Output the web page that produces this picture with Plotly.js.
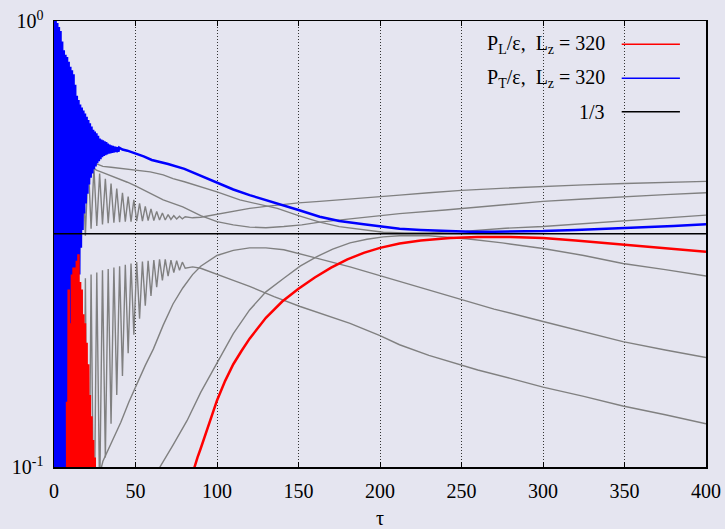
<!DOCTYPE html>
<html>
<head>
<meta charset="utf-8">
<script src="https://cdn.plot.ly/plotly-3.0.1.min.js"></script>
<style>
  html, body { margin: 0; padding: 0; background: #e5e5f0; }
  #chart { width: 725px; height: 529px; }
</style>
</head>
<body>
<div id="chart"></div>
<script>
// Pressure anisotropy P/ε versus proper time τ (log scale)

// L_z = 320, transverse pressure (blue)
const tauPT320 = [0,0.5,1,1.5,2,2.5,3,3.5,4,4.5,5,5.5,6,6.5,7,7.5,8,8.5,9,9.5,10,10.5,11,11.5,12,12.5,13,13.5,14,14.5,15,15.5,16,16.5,17,17.5,18,18.5,19,19.5,
  20,20.5,21,21.5,22,22.5,23,23.5,24,24.5,25,25.5,26,26.5,27,27.5,28,28.5,29,29.5,30,30.5,31,31.5,32,32.5,33,33.5,34,34.5,35,35.5,36,36.5,37,37.5,38,38.5,39,39.5,40,
  42,45,50,55,60,70,80,90,100,110,120,130,141,150,163,175,190,200,212,225,240,255,270,285,300,320,340,360,380,400];
const pt320 = [1.0,0.02,1.0,0.02,0.99,0.02,0.97,0.02,0.95,0.02,0.9,0.02,0.86,0.02,0.84,0.02,0.83,0.02,0.81,0.02,0.79,0.02,
  0.775,0.05,0.76,0.1,0.72,0.16,0.68,0.22,0.665,0.27,0.65,0.31,0.64,0.34,0.63,0.37,0.62,0.39,0.61,0.41,0.6,0.43,0.59,0.445,0.58,0.455,0.57,0.465,
  0.565,0.472,0.56,0.48,0.553,0.485,0.545,0.49,0.542,0.495,0.54,0.498,0.537,0.5,0.535,0.502,0.531,0.504,0.528,0.505,0.526,0.506,0.525,0.507,0.523,0.508,0.522,0.508,0.521,0.509,0.52,
  0.515,0.512,0.505,0.497,0.488,0.478,0.466,0.45,0.433,0.419,0.407,0.397,0.387,0.377,0.364,0.356,0.35,0.346,0.342,0.340,0.338,0.337,0.337,0.337,0.338,0.34,0.342,0.345,0.347,0.35];

// L_z = 320, longitudinal pressure (red)
const tauPL320 = [8,8.5,9,9.5,10,10.5,11,11.5,12,12.5,13,13.5,14,14.5,15,15.5,16,16.5,17,17.5,18,18.5,19,19.5,20,20.5,21,21.5,22,22.5,23,23.5,24,24.5,25,25.5,26,
  30,45,60,75,80,84,86,88,90,95,100,105,110,115,120,130,140,150,160,170,180,190,200,212,225,243,260,280,300,320,349,375,400];
const pl320 = [0.14,0.02,0.25,0.02,0.21,0.02,0.27,0.02,0.28,0.02,0.28,0.02,0.29,0.02,0.30,0.02,0.26,0.02,0.25,0.02,0.22,0.02,0.21,0.02,0.19,0.02,0.17,0.02,0.145,0.02,0.13,0.02,0.115,0.02,0.105,0.02,0.09,
  0.03,0.02,0.03,0.06,0.075,0.094,0.1,0.105,0.11,0.125,0.141,0.156,0.17,0.182,0.194,0.216,0.235,0.251,0.266,0.28,0.292,0.302,0.31,0.317,0.322,0.326,0.328,0.328,0.326,0.322,0.315,0.309,0.304];

// Other box sizes (gray), run A
const tauA = [14,15.75,17.5,19.25,21,22.75,24.5,26.25,28,29.75,31.5,33.25,35,36.75,38.5,40.25,42,43.75,45.5,47.25,49,50.75,52.5,54.25,56,57.75,59.5,61.25,63,64.75,66.5,68.25,70,71.75,73.5,75.25,77,78.75,80.5];
const tauTA = tauA.concat([85,90,100,110,120,130,140,150,163,180,200,212,230,250,277,300,325,350,375,400]);
const ptA = [0.52,0.31,0.50,0.33,0.485,0.342,0.468,0.347,0.455,0.35,0.443,0.352,0.432,0.353,0.421,0.354,0.412,0.355,0.404,0.355,0.397,0.356,0.39,0.356,0.384,0.357,0.379,0.357,0.374,0.358,0.371,0.358,0.368,0.359,0.366,0.36,0.365,0.36,0.364,
  0.362,0.363,0.369,0.375,0.380,0.384,0.388,0.391,0.394,0.399,0.404,0.407,0.412,0.417,0.422,0.426,0.429,0.432,0.435,0.437];
const tauLA = tauA.concat([85,90,100,110,120,135,151,165,181.6,200,212,230,243,260,280,300,325,349,375,400]);
const plA = [0.02,0.26,0.03,0.265,0.045,0.27,0.065,0.273,0.085,0.276,0.105,0.278,0.125,0.28,0.145,0.282,0.16,0.284,0.18,0.286,0.198,0.288,0.215,0.289,0.23,0.29,0.242,0.291,0.253,0.292,0.262,0.292,0.268,0.291,0.273,0.29,0.276,0.288,0.279,
  0.281,0.279,0.27,0.262,0.254,0.241,0.229,0.22,0.21,0.197,0.188,0.178,0.172,0.165,0.158,0.151,0.144,0.137,0.131,0.125];

// run B
const tauTB = [20,26,30,35,40,45,50,59,67,79,90,100,110,120,130,141,152,163,175,190,212,240,260,280,300,325,350,375,400];
const ptB = [0.48,0.463,0.457,0.45,0.443,0.435,0.427,0.411,0.397,0.383,0.366,0.355,0.349,0.345,0.344,0.346,0.349,0.354,0.358,0.363,0.37,0.377,0.383,0.389,0.394,0.399,0.404,0.408,0.412];
const tauLB = [20,26,30,35,41,46,51,56,61,67,73,79,85,90,100,110,120,130,141,151,161,181.6,202,222.5,243,270,300,325,349,375,400];
const plB = [0.06,0.09,0.103,0.113,0.126,0.14,0.154,0.169,0.184,0.208,0.232,0.252,0.27,0.282,0.298,0.306,0.31,0.31,0.307,0.301,0.294,0.281,0.267,0.254,0.241,0.226,0.212,0.201,0.191,0.183,0.176];

// run C
const tauTC = [25,30,35,40,45,50.7,59,67,73,80,90,100,114,125,137,150,163,175,190,202,215,230,253,277,300,325,349,375,400];
const ptC = [0.48,0.472,0.47,0.468,0.466,0.463,0.459,0.452,0.443,0.436,0.425,0.414,0.397,0.389,0.38,0.366,0.354,0.346,0.34,0.336,0.335,0.335,0.338,0.343,0.346,0.351,0.357,0.362,0.367];
const tauLC = [40,50,60,65,73,81.6,90,100,110,120,130,141,151,161,171,181.6,192,202,212,230,253,275,300,325,349,375,400];
const plC = [0.03,0.06,0.085,0.1,0.112,0.127,0.147,0.171,0.199,0.225,0.247,0.265,0.282,0.296,0.308,0.318,0.324,0.328,0.33,0.33,0.325,0.318,0.309,0.298,0.286,0.277,0.268];

// isotropic reference 1/3
const tauIso = [0, 400];
const iso = [1/3, 1/3];

// axis ticks
const xTicks = [0,50,100,150,200,250,300,350,400];
const yTicks = [0.1, 1];
const yTickText = ['10<sup>-1</sup>', '10<sup>0</sup>'];

// key entries
const keyLabels = ['P<sub>L</sub>/ε,\u00a0 L<sub>z</sub> = 320', 'P<sub>T</sub>/ε,\u00a0 L<sub>z</sub> = 320', '1/3'];
const keyColors = ['#ff0000', '#0000ff', '#000000'];

const serif = '"Liberation Serif", "Times New Roman", serif';
const gray = '#808080';

function curve(x, y, color, width) {
  return { x: x, y: y, type: 'scatter', mode: 'lines',
           line: { color: color, width: width }, showlegend: false, hoverinfo: 'skip' };
}

const traces = [
  curve(tauLA, plA, gray, 1.4),
  curve(tauLB, plB, gray, 1.4),
  curve(tauLC, plC, gray, 1.4),
  curve(tauTA, ptA, gray, 1.4),
  curve(tauTB, ptB, gray, 1.4),
  curve(tauTC, ptC, gray, 1.4),
  curve(tauPT320, pt320, '#0000ff', 2.5),
  curve(tauPL320, pl320, '#ff0000', 2.5),
  curve(tauIso, iso, '#000000', 1.5)
];

// key rows placed in the upper right of the plot area
const keyRowY = [0.948, 0.8715, 0.7967];
const annotations = keyLabels.map((t, i) => ({
  xref: 'paper', yref: 'paper', x: 0.848, y: keyRowY[i],
  xanchor: 'right', yanchor: 'middle', showarrow: false,
  text: t, font: { family: serif, size: 20, color: '#000' }
}));
const shapes = keyColors.map((c, i) => ({
  type: 'line', xref: 'paper', yref: 'paper',
  x0: 0.8707, x1: 0.960, y0: keyRowY[i], y1: keyRowY[i],
  line: { color: c, width: 1.5 }
}));

const layout = {
  width: 725, height: 529,
  margin: { l: 54, r: 19, t: 21, b: 62 },
  paper_bgcolor: '#e5e5f0', plot_bgcolor: '#e5e5f0',
  font: { family: serif, size: 20, color: '#000' },
  showlegend: false,
  xaxis: {
    range: [0, 400], tickvals: xTicks, ticks: 'inside', ticklen: 5, tickwidth: 1, tickcolor: '#000',
    showline: true, linecolor: '#000', linewidth: 1.5, mirror: 'ticks',
    showgrid: true, gridcolor: '#333', gridwidth: 1, griddash: '1px,2px',
    zeroline: false, ticklabelstandoff: 5,
    tickfont: { family: serif, size: 20, color: '#000' },
    title: { text: 'τ', font: { family: serif, size: 20, color: '#000' }, standoff: 12 }
  },
  yaxis: {
    type: 'log', range: [-1, 0], tickvals: yTicks, ticktext: yTickText, ticks: '',
    showline: true, linecolor: '#000', linewidth: 1.5, mirror: true,
    showgrid: false, zeroline: false, ticklabelstandoff: 5,
    tickfont: { family: serif, size: 20, color: '#000' }
  },
  annotations: annotations,
  shapes: shapes
};

Plotly.newPlot('chart', traces, layout, { displayModeBar: false, staticPlot: true });
</script>
</body>
</html>
